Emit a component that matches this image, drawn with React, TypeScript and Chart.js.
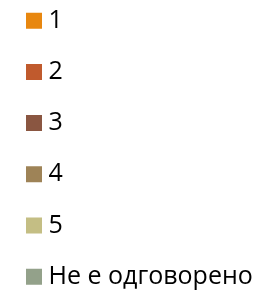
import React, { useEffect, useRef } from "react";
import { Chart, registerables } from "chart.js";

Chart.register(...registerables);

const categories = ["1", "2", "3", "4", "5", "Не е одговорено"];
const responses = [0, 0, 0, 0, 0, 0];
const colors = ["#E8870F", "#C05A2D", "#8A5641", "#9E8357", "#C4BE84", "#93A18A"];

export default function App() {
  const ref = useRef<HTMLCanvasElement | null>(null);
  useEffect(() => {
    if (!ref.current) return;
    const fontSize = 25;
    const chart = new Chart(ref.current, {
      type: "pie",
      data: {
        labels: categories,
        datasets: [{ data: responses, backgroundColor: colors, borderWidth: 0 }],
      },
      options: {
        animation: false,
        responsive: false,
        maintainAspectRatio: false,
        layout: { padding: { left: 5.8, top: 0, right: 0, bottom: 0 } },
        plugins: {
          tooltip: { enabled: false },
          legend: {
            position: "left",
            align: "start",
            labels: {
              boxWidth: 4,
              boxHeight: 4,
              padding: 26.2,
              color: "#252423",
              font: { family: "'Open Sans', sans-serif", size: fontSize },
              generateLabels: () =>
                categories.map((t, i) => ({
                  text: t,
                  fillStyle: colors[i],
                  strokeStyle: colors[i],
                  lineWidth: 12,
                  lineJoin: "miter",
                  hidden: false,
                  index: i,
                })),
            },
          },
        },
      },
    });
    return () => chart.destroy();
  }, []);
  return (
    <div style={{ position: "fixed", left: 0, top: -17.7, width: 600, height: 340, overflow: "hidden" }}>
      <canvas ref={ref} width={600} height={340} style={{ width: 600, height: 340 }} />
    </div>
  );
}
